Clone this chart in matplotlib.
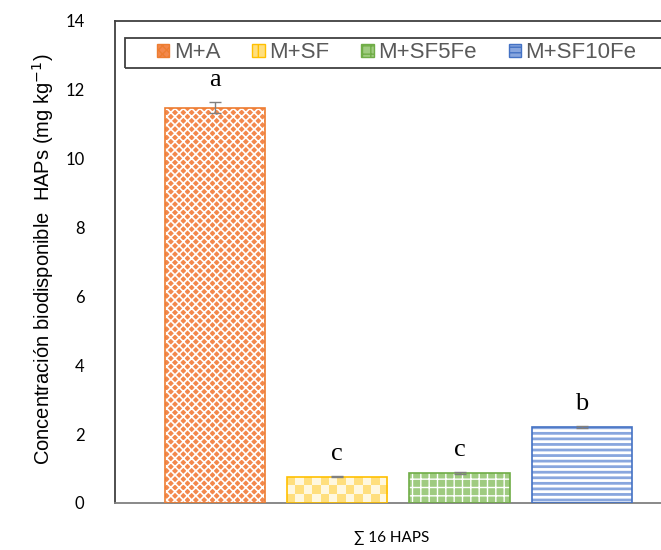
import matplotlib.pyplot as plt
import matplotlib as mpl
import numpy as np
from matplotlib.patches import Patch, Rectangle
from matplotlib.colors import ListedColormap

# data
treatments = ["M+A", "M+SF", "M+SF5Fe", "M+SF10Fe"]
values = [11.48, 0.76, 0.87, 2.21]
errors = [0.16, 0.02, 0.02, 0.02]
letters = ["a", "c", "c", "b"]

face_colors = ["#F3884C", "#FFDF7E", "#9FCB80", "#88A6DE"]
edge_colors = ["#ED7D31", "#FFC000", "#70AD47", "#4472C4"]
hatches = ["xxxx", "", "++", "---"]
hatch_widths = [1.2, 0, 1.0, 2.0]

fig = plt.figure(figsize=(6.61, 5.5), dpi=100)
ax = fig.add_axes([0.174, 0.0855, 0.826, 0.8765])

x = list(range(len(treatments)))
bars = []
for i in x:
    with mpl.rc_context({"hatch.linewidth": hatch_widths[i]}):
        b = ax.bar(x[i], values[i], width=0.82, color=face_colors[i],
                   edgecolor="white", hatch=hatches[i], linewidth=0, zorder=2)
    bars.append(b[0])
    ax.bar(x[i], values[i], width=0.82, fill=False,
           edgecolor=edge_colors[i], linewidth=1.2, zorder=3)

ax.set_xlim(-0.818, 3.647)
ax.set_ylim(0, 14)

# checkerboard fill for M+SF (no matching hatch in matplotlib)
p = bars[1]
x0, x1 = p.get_x(), p.get_x() + p.get_width()
h = p.get_height()
w_px = ax.transData.transform((x1, 0))[0] - ax.transData.transform((x0, 0))[0]
h_px = ax.transData.transform((0, h))[1] - ax.transData.transform((0, 0))[1]
nc = int(round(w_px / 8.4))
nr = max(1, int(round(h_px / 8.6)))
checker = np.indices((nr, nc)).sum(axis=0) % 2
im = ax.imshow(checker, extent=(x0, x1, 0, h), origin="lower", aspect="auto",
               cmap=ListedColormap(["#FFDF7E", "#FFF8E0"]),
               interpolation="nearest", zorder=2.5)
im.set_clip_path(p)
ax.set_xlim(-0.818, 3.647)
ax.set_ylim(0, 14)

ax.errorbar(x, values, yerr=errors, fmt="none", ecolor="#808080",
            elinewidth=1.0, capsize=4, zorder=4)

for i in x:
    ax.annotate(letters[i], (x[i], values[i] + errors[i]),
                xytext=(0, 8), textcoords="offset points",
                ha="center", va="bottom", fontsize=19,
                family="Liberation Serif", color="black")

ax.set_yticks(range(0, 15, 2))
ax.set_xticks([])
ax.tick_params(axis="y", length=0, pad=22, labelsize=12)
for lab in ax.get_yticklabels():
    lab.set_family("Lato")

ax.spines["right"].set_visible(False)
ax.spines["left"].set_color("#404040")
ax.spines["top"].set_color("#404040")
ax.spines["bottom"].set_color("#808080")
for s in ["left", "top", "bottom"]:
    ax.spines[s].set_linewidth(1.3)

fig.text(0.065, 0.529, "Concentración biodisponible  HAPs (mg kg$^{-1}$)",
         rotation=90, ha="center", va="center", fontsize=14.5,
         family="Liberation Sans")
ax.set_xlabel("∑ 16 HAPS", fontsize=11, family="Lato")
ax.xaxis.set_label_coords(0.507, -0.073, transform=ax.transAxes)
ax.xaxis.label.set_va("center")

# legend box (runs off the right edge as in the original)
ax.add_patch(Rectangle((0.0183, 0.9025), 1.2, 0.0622, transform=ax.transAxes,
                       fill=False, edgecolor="#404040", linewidth=1.3,
                       clip_on=False, zorder=5))

handles = []
for i in x:
    handles.append(Patch(facecolor=face_colors[i], edgecolor=edge_colors[i],
                         hatch=hatches[i] if hatches[i] else "+", label=treatments[i]))
leg = ax.legend(handles=handles, loc="center left", bbox_to_anchor=(0.0769, 0.9336),
                ncol=4, frameon=False, prop={"family": "Liberation Sans", "size": 16},
                handlelength=0.55, handleheight=0.55, handletextpad=0.2,
                columnspacing=1.45, borderpad=0, borderaxespad=0)
for t in leg.get_texts():
    t.set_color("#595959")

fig.savefig("out.png", dpi=100)
